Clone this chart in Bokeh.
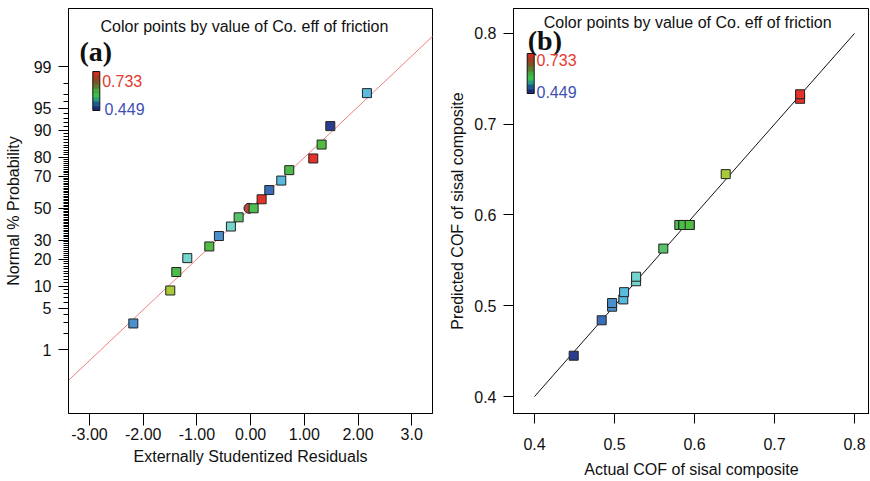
from statistics import NormalDist
import numpy as np
from bokeh.plotting import figure
from bokeh.layouts import row
from bokeh.models import (ColumnDataSource, FixedTicker, CustomJSTickFormatter,
                          LinearColorMapper, ColorBar, Label, Range1d)
from bokeh.transform import transform
from bokeh.embed import file_html
from bokeh.resources import INLINE

# ---------------- data ----------------
# (a) normal probability plot of externally studentized residuals
resid = [-2.184, -1.496, -1.384, -1.179, -0.769, -0.590, -0.367, -0.223, 0.056,
         0.205, 0.348, 0.571, 0.720, 1.167, 1.322, 1.484, 2.166]
prob_pct = [2.9, 8.8, 14.7, 20.6, 26.5, 32.4, 38.2, 44.1, 50.0,
            55.9, 61.8, 67.6, 73.5, 79.4, 85.3, 91.2, 97.1]
resid_cof = [0.497, 0.640, 0.586, 0.528, 0.594, 0.497, 0.527, 0.561, 0.581,
             0.733, 0.484, 0.511, 0.586, 0.732, 0.594, 0.449, 0.512]
marked_resid = [-0.031]
marked_prob = [50.0]
fit_resid = [-3.4, 3.4]
fit_prob = [0.225, 99.775]

# (b) predicted vs actual
actual = [0.449, 0.484, 0.497, 0.497, 0.511, 0.512, 0.527, 0.527, 0.561,
          0.581, 0.586, 0.594, 0.586, 0.594, 0.639, 0.732, 0.732]
predicted = [0.445, 0.484, 0.499, 0.503, 0.507, 0.515, 0.527, 0.532, 0.563,
             0.589, 0.589, 0.589, 0.589, 0.589, 0.645, 0.728, 0.733]
diag_actual = [0.4, 0.8]
diag_pred = [0.4, 0.8]

cof_low, cof_high = 0.449, 0.733

# tick labels
prob_major = [1, 5, 10, 20, 30, 50, 70, 80, 90, 95, 99]
prob_labels = ["1", "5", "10", "20", "30", "50", "70", "80", "90", "95", "99"]
resid_ticks = [-3, -2, -1, 0, 1, 2, 3]
resid_labels = ["-3.00", "-2.00", "-1.00", "0.00", "1.00", "2.00", "3.0"]
cof_ticks = [0.4, 0.5, 0.6, 0.7, 0.8]

# ---------------- styling helpers ----------------
FONT = "Liberation Sans"
nd = NormalDist()


def probit(pcts):
    return [nd.inv_cdf(v / 100.0) for v in pcts]


anchor_v = [0.449, 0.484, 0.497, 0.512, 0.528, 0.561, 0.590, 0.640, 0.690, 0.733]
anchor_c = ["#2b3d8f", "#3b6db7", "#4a90cd", "#5bbde0", "#74d6cc", "#55c267",
            "#4cba45", "#a8cc3a", "#d98a2e", "#e2332a"]


def hex2rgb(h):
    return [int(h[i:i + 2], 16) for i in (1, 3, 5)]


rgb = np.array([hex2rgb(c) for c in anchor_c], dtype=float)
grid = np.linspace(cof_low, cof_high, 256)
pal = []
for g in grid:
    r = np.interp(g, anchor_v, rgb[:, 0])
    gg = np.interp(g, anchor_v, rgb[:, 1])
    b = np.interp(g, anchor_v, rgb[:, 2])
    pal.append("#%02x%02x%02x" % (int(round(r)), int(round(gg)), int(round(b))))
point_mapper = LinearColorMapper(palette=pal, low=cof_low, high=cof_high)

bar_pal = ["#1c2a7a", "#1f5a8f", "#2a9a80", "#3dbf50", "#48a63a", "#5f7a2c",
           "#7a5526", "#a03c20", "#d02c1c"]


def style_axis(ax, tick_out):
    ax.axis_line_color = "black"
    ax.major_tick_line_color = "black"
    ax.minor_tick_line_color = "black"
    ax.major_tick_in = 0
    ax.minor_tick_in = 0
    ax.major_tick_out = tick_out
    ax.minor_tick_out = 5
    ax.major_label_text_font = FONT
    ax.major_label_text_font_size = "16px"
    ax.major_label_text_color = "#111111"
    ax.axis_label_text_font = FONT
    ax.axis_label_text_font_size = "16px"
    ax.axis_label_text_font_style = "normal"
    ax.axis_label_text_color = "#111111"


def add_colorbar(p, x, y, h, lab_hi, lab_lo):
    bar_mapper = LinearColorMapper(palette=bar_pal, low=cof_low, high=cof_high)
    cb = ColorBar(color_mapper=bar_mapper, orientation="vertical", width=7, height=h,
                  location=(x, y), padding=0, margin=0,
                  ticker=FixedTicker(ticks=[]), major_tick_line_color=None,
                  major_label_text_font_size="1px", major_label_text_alpha=0,
                  bar_line_color="#111111", bar_line_width=1,
                  background_fill_alpha=0, border_line_color=None)
    p.add_layout(cb)
    p.add_layout(Label(x=lab_hi[0], y=lab_hi[1], x_units="screen", y_units="screen",
                       text="0.733", text_font=FONT, text_font_size="16px",
                       text_color="#e5392e", text_baseline="middle"))
    p.add_layout(Label(x=lab_lo[0], y=lab_lo[1], x_units="screen", y_units="screen",
                       text="0.449", text_font=FONT, text_font_size="16px",
                       text_color="#3f4fb3", text_baseline="middle"))


def add_title(p, x, y, tag, tx, ty):
    p.add_layout(Label(x=x, y=y, x_units="screen", y_units="screen",
                       text="Color points by value of Co. eff of friction",
                       text_font=FONT, text_font_size="16px", text_color="#111111",
                       text_baseline="middle"))
    p.add_layout(Label(x=tx, y=ty, x_units="screen", y_units="screen",
                       text=tag, text_font="Liberation Serif", text_font_size="28px",
                       text_font_style="bold", text_color="#111111",
                       text_baseline="middle"))


H = 480

# ---------------- panel (a) ----------------
p1 = figure(width=444, height=H, output_backend="svg", toolbar_location=None,
            x_range=Range1d(-3.391, 3.387), y_range=Range1d(-3.378, 3.289),
            min_border_left=68, min_border_right=12, min_border_top=8,
            min_border_bottom=66)
p1.grid.visible = False
p1.outline_line_color = "black"
p1.outline_line_width = 1
p1.background_fill_color = "white"
p1.border_fill_color = "white"

p1.line(fit_resid, probit(fit_prob), line_color="#f07f7f", line_width=1)
p1.scatter(marked_resid, probit(marked_prob), marker="circle", size=10,
           fill_color="#b9473a", line_color="#222222", line_width=1)
src1 = ColumnDataSource(dict(x=resid, y=probit(prob_pct), cof=resid_cof))
p1.scatter("x", "y", source=src1, marker="square", size=9,
           fill_color=transform("cof", point_mapper), line_color="#222222", line_width=1)

p1.xaxis.ticker = FixedTicker(ticks=resid_ticks, minor_ticks=[])
p1.xaxis.formatter = CustomJSTickFormatter(args=dict(vs=resid_ticks, labs=resid_labels), code="""
let best = 0, d = Infinity;
for (let i = 0; i < vs.length; i++) { const e = Math.abs(vs[i] - tick); if (e < d) { d = e; best = i; } }
return labs[best];""")
p1.xaxis.axis_label = "Externally Studentized Residuals"
style_axis(p1.xaxis[0], 12)
p1.xaxis.major_label_standoff = 2
p1.xaxis.axis_label_standoff = 5

minor_pct = [v for v in range(1, 100) if v not in prob_major]
p1.yaxis.ticker = FixedTicker(ticks=probit(prob_major), minor_ticks=probit(minor_pct))
p1.yaxis.formatter = CustomJSTickFormatter(args=dict(vs=probit(prob_major), labs=prob_labels), code="""
let best = 0, d = Infinity;
for (let i = 0; i < vs.length; i++) { const e = Math.abs(vs[i] - tick); if (e < d) { d = e; best = i; } }
return labs[best];""")
p1.yaxis.axis_label = "Normal % Probability"
style_axis(p1.yaxis[0], 10)
p1.yaxis.major_label_standoff = 7
p1.yaxis.axis_label_standoff = 9

add_title(p1, 32, 387, "(a)", 11, 362.5)
add_colorbar(p1, 24.3, 303, 39, (33.7, 332.8), (36, 304.5))

# ---------------- panel (b) ----------------
p2 = figure(width=425, height=H, output_backend="svg", toolbar_location=None,
            x_range=Range1d(0.37375, 0.81875), y_range=Range1d(0.38132, 0.82747),
            min_border_left=69, min_border_right=0, min_border_top=8,
            min_border_bottom=66)
p2.grid.visible = False
p2.outline_line_color = "black"
p2.outline_line_width = 1
p2.background_fill_color = "white"
p2.border_fill_color = "white"

p2.line(diag_actual, diag_pred, line_color="#111111", line_width=1)
src2 = ColumnDataSource(dict(x=actual, y=predicted, cof=actual))
p2.scatter("x", "y", source=src2, marker="square", size=9,
           fill_color=transform("cof", point_mapper), line_color="#222222", line_width=1)

p2.xaxis.ticker = FixedTicker(ticks=cof_ticks, minor_ticks=[])
p2.yaxis.ticker = FixedTicker(ticks=cof_ticks, minor_ticks=[])
p2.xaxis.axis_label = "Actual COF of sisal composite"
p2.yaxis.axis_label = "Predicted COF of sisal composite"
style_axis(p2.xaxis[0], 10)
style_axis(p2.yaxis[0], 10)
p2.xaxis.major_label_standoff = 14
p2.xaxis.axis_label_standoff = 8
p2.yaxis.major_label_standoff = 7
p2.yaxis.axis_label_standoff = 5

add_title(p2, 30.3, 390.8, "(b)", 14.3, 373.5)
add_colorbar(p2, 13.7, 320, 40, (23, 353.8), (23, 321.2))

layout = row(p1, p2)
open("out.html", "w").write(file_html(layout, INLINE))
